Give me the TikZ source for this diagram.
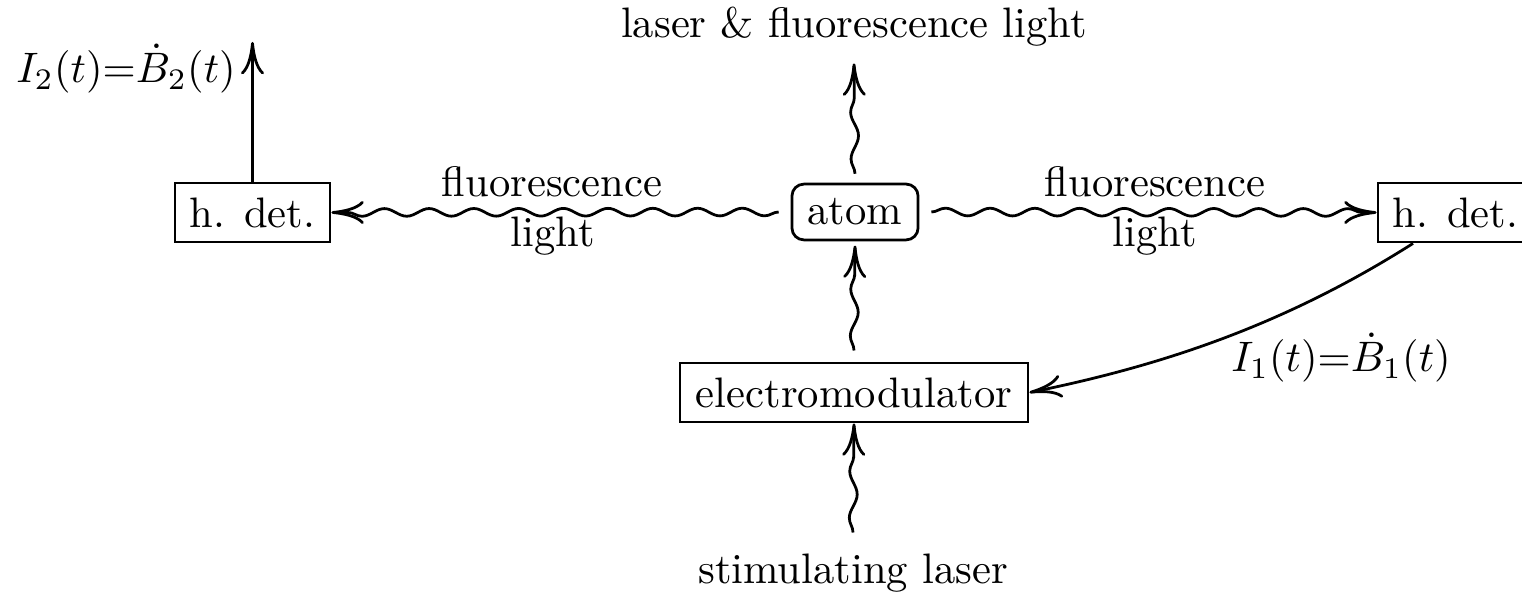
\documentclass[tikz,border=0pt]{standalone}
\usetikzlibrary{arrows.meta,decorations.pathmorphing}
\tikzset{
  box/.style={draw, line width=0.65pt, inner sep=0pt, minimum height=13.85pt},
  lbl/.style={inner sep=0pt, anchor=base},
  tip/.style={-{Computer Modern Rightarrow[length=7.6pt,width=5.4pt]}},
  conn/.style={line width=0.65pt, tip},
  wave/.style={conn, decorate, decoration={snake, amplitude=0.9pt, segment length=10.5pt, post length=3pt}},
  vwave/.style={conn, decorate, decoration={snake, amplitude=0.9pt, segment length=11pt, post length=3pt}}
}
\begin{document}
\begin{tikzpicture}[x=0.2347pt, y=-0.2347pt]
\useasboundingbox (0,0) rectangle (1522,595);
% boxes
\node[box, minimum width=36.4pt] (ldet) at (252.5,212.5) {h. det.};
\node[box, minimum width=36.4pt] (rdet) at (1455.5,212.5) {h. det.};
\node[box, minimum width=29.6pt, minimum height=13.1pt, rounded corners=2.8pt] (atom) at (855,212) {atom};
\node[box, minimum width=81.7pt] (em) at (854,392.5) {electromodulator};
% labels
\node[lbl] (top) at (854,38) {laser \& fluorescence light};
\node[lbl] (bot) at (853,583) {stimulating laser};
\node[lbl] (fl1) at (552,197) {fluorescence};
\node[lbl] (li1) at (553,247) {light};
\node[lbl] (fl2) at (1155,197) {fluorescence};
\node[lbl] (li2) at (1155,247) {light};
\node[lbl] (i2) at (126,83) {$I_2(t){=}\dot{B}_2(t)$};
\node[lbl] (i1) at (1341,372) {$I_1(t){=}\dot{B}_1(t)$};
\coordinate (out2) at (252.5,42);
% connectors
\draw[vwave] ([yshift=2.1pt]atom.north) -- ([yshift=-3.7pt]top.south);
\draw[vwave] ([yshift=2.6pt]em.north) -- ([yshift=-1pt]atom.south);
\draw[vwave] ([yshift=4.7pt]bot.north) -- (em.south);
\draw[wave] ([xshift=-2.8pt]atom.west) -- (ldet.east);
\draw[wave] ([xshift=2.8pt]atom.east) -- (rdet.west);
\draw[conn] (ldet.north) -- (out2);
\draw[conn] ([xshift=-9.97pt]rdet.south) .. controls (1283,326) and (1160,366) .. (em.east);
\end{tikzpicture}
\end{document}
